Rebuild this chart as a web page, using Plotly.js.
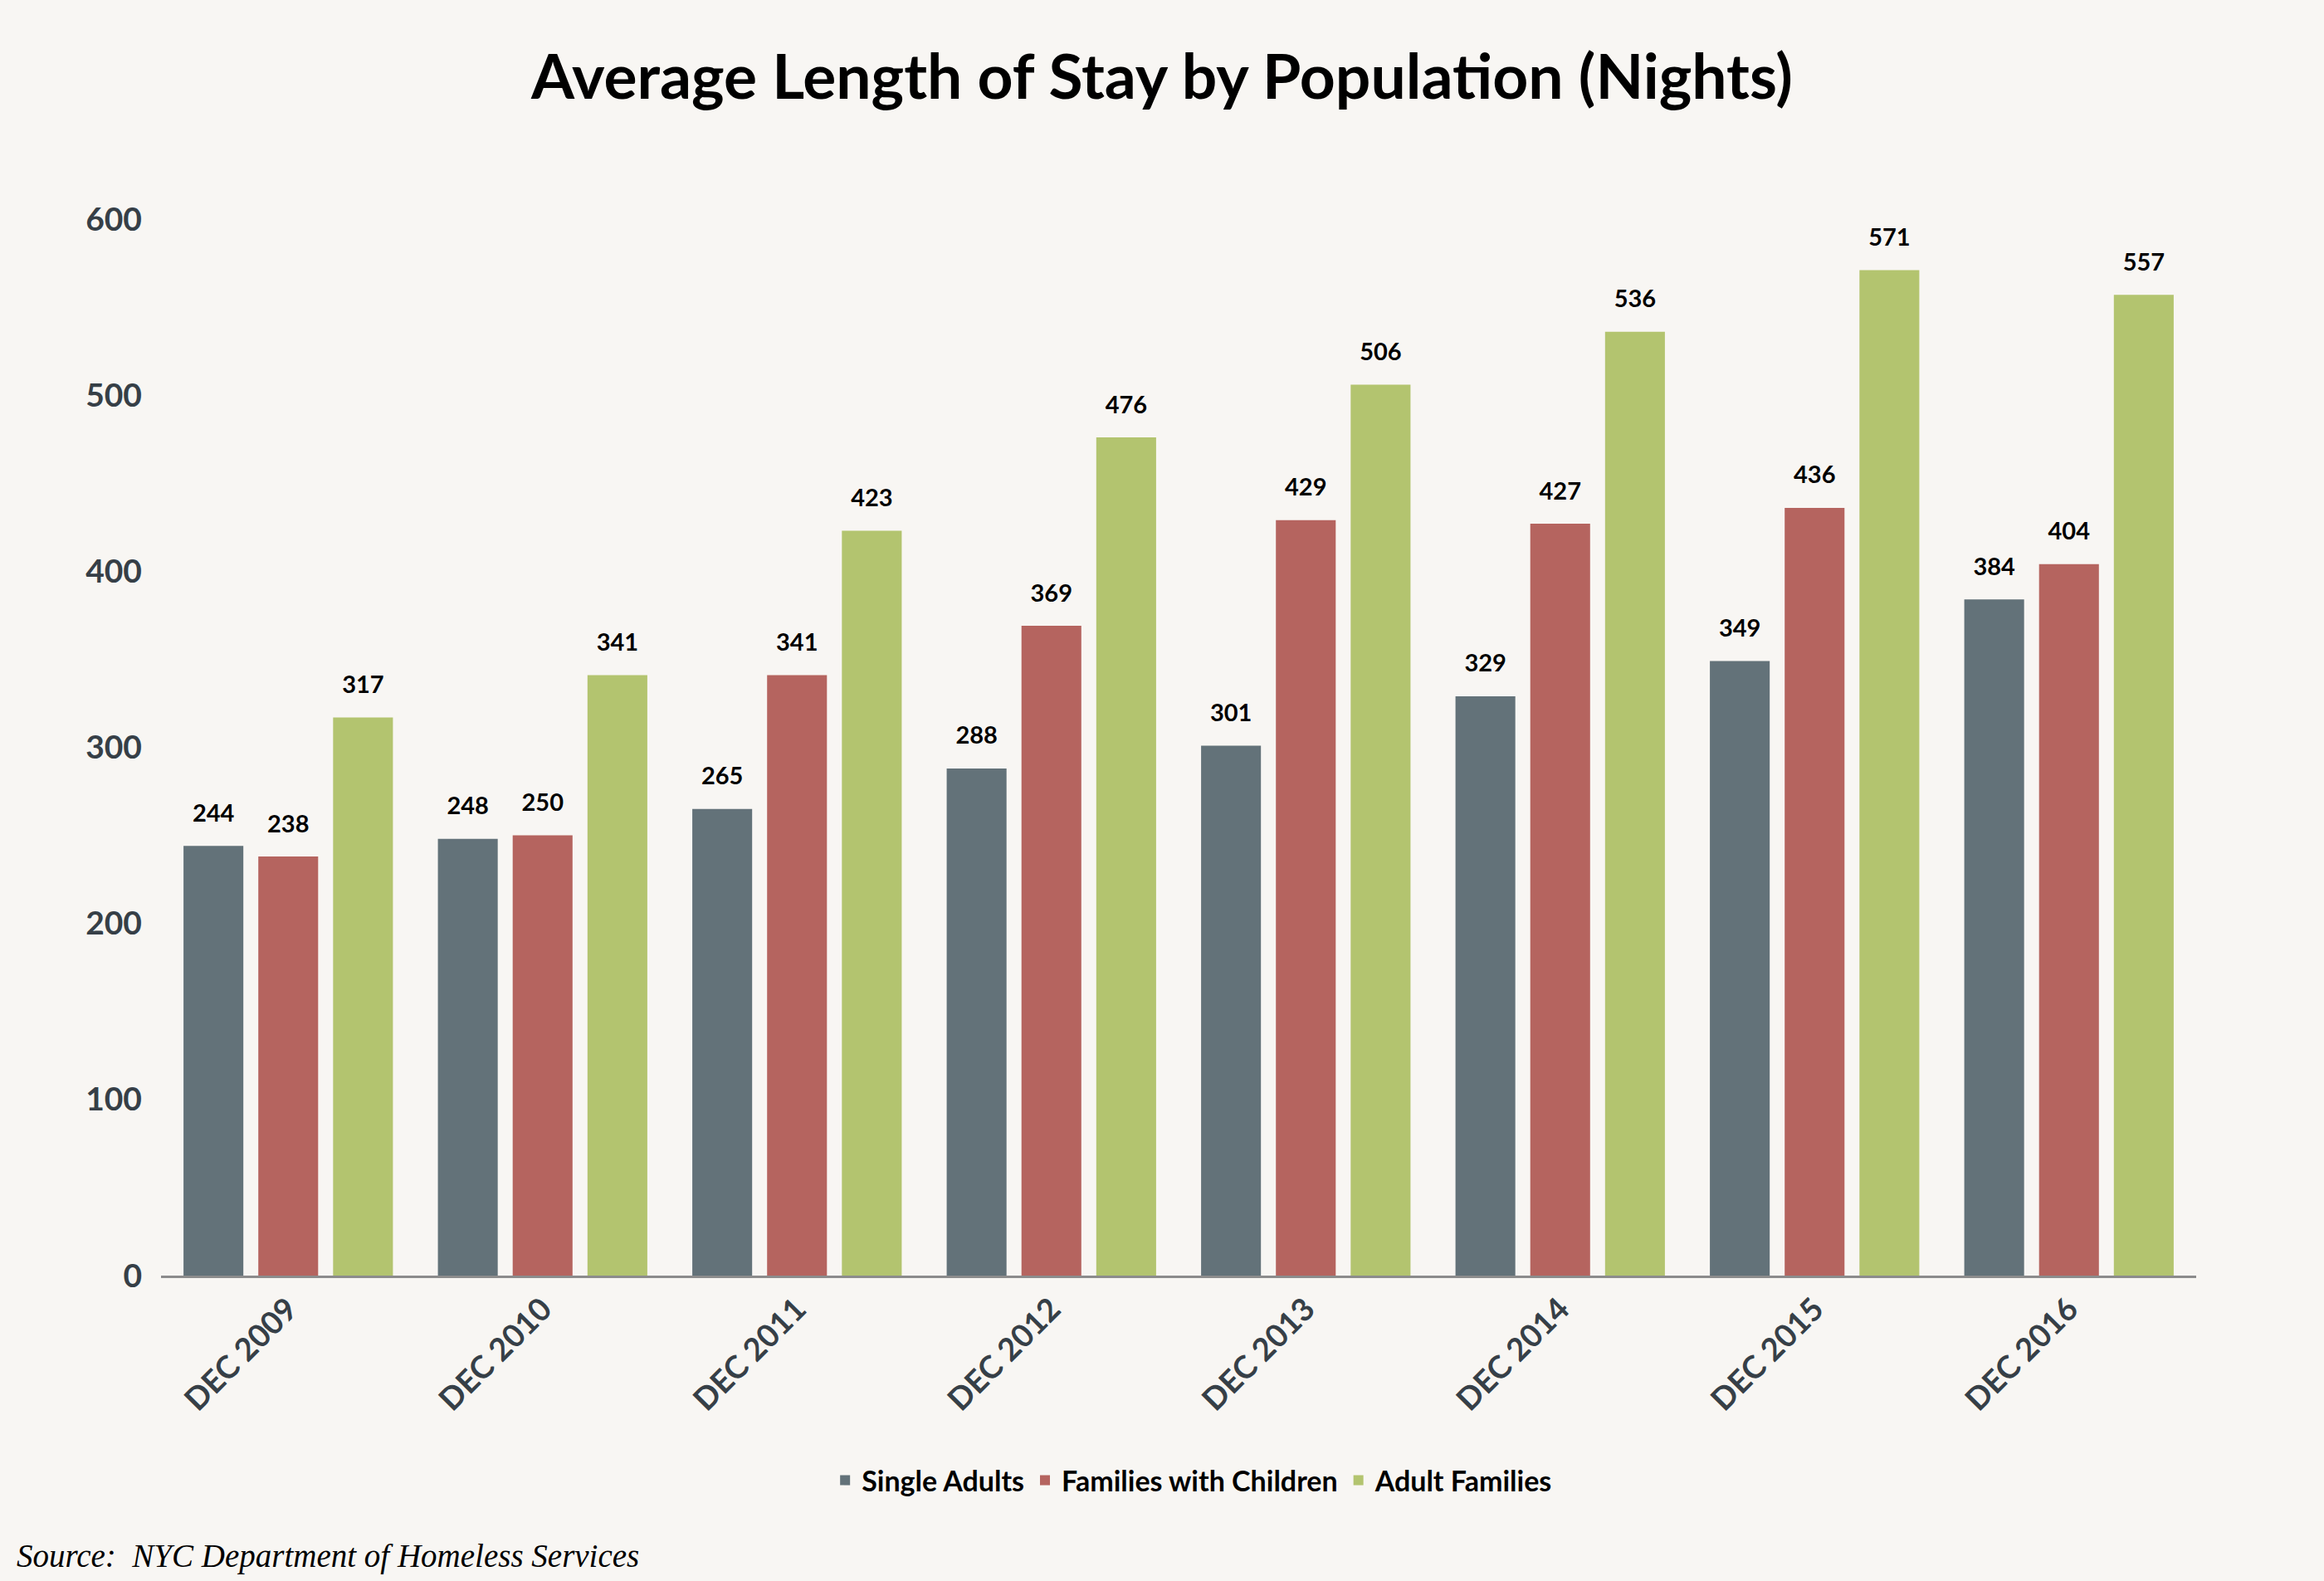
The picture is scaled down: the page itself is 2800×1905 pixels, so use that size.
<!DOCTYPE html>
<html>
<head>
<meta charset="utf-8">
<script src="https://cdn.plot.ly/plotly-3.0.1.min.js"></script>
<style>
html,body{margin:0;padding:0;background:#f8f6f3;}
#chart{width:2800px;height:1905px;}
</style>
</head>
<body>
<div id="chart"></div>
<script>
var categories = ["DEC 2009","DEC 2010","DEC 2011","DEC 2012","DEC 2013","DEC 2014","DEC 2015","DEC 2016"];
var singleAdults = [244,248,265,288,301,329,349,384];
var familiesWithChildren = [238,250,341,369,429,427,436,404];
var adultFamilies = [317,341,423,476,506,536,571,557];
var seriesNames = ["Single Adults","Families with Children","Adult Families"];
var seriesColors = ["#637279","#b5645f","#b3c46f"];
var seriesValues = [singleAdults, familiesWithChildren, adultFamilies];
var yTicks = [0,100,200,300,400,500,600];

var FONT = "Lato, 'Open Sans', sans-serif";
var traces = [];
seriesValues.forEach(function(vals, i){
  traces.push({
    type:"bar", name:seriesNames[i], x:categories, y:vals,
    marker:{color:seriesColors[i]}, hoverinfo:"skip"
  });
});
seriesValues.forEach(function(vals, i){
  traces.push({
    type:"scatter", mode:"markers+text", x:categories, y:vals,
    text:vals.map(String), textposition:"top center",
    textfont:{family:FONT, size:29, color:"#000", weight:700},
    marker:{size:34, opacity:0}, showlegend:false, hoverinfo:"skip", cliponaxis:false
  });
});

var layout = {
  width:2800, height:1905,
  paper_bgcolor:"#f8f6f3", plot_bgcolor:"#f8f6f3",
  margin:{l:194, r:154, t:264, b:368},
  barmode:"group", bargap:0.118, bargroupgap:0.2,
  scattermode:"group", scattergap:0.118,
  title:{text:"Average Length of Stay by Population (Nights)",
         font:{family:FONT, size:75, color:"#000", weight:700},
         x:0.5, xanchor:"center", y:1-93/1905, yref:"container", yanchor:"middle"},
  xaxis:{type:"category", range:[-0.5,7.5], tickangle:-45,
         tickfont:{family:FONT, size:38, color:"#363f47", weight:700},
         showline:true, linecolor:"#8c8c8c", linewidth:3, showgrid:false,
         ticks:"", zeroline:false, fixedrange:true},
  yaxis:{range:[0,600], tickvals:yTicks, ticktext:yTicks.map(String),
         tickfont:{family:FONT, size:39, color:"#363f47", weight:700},
         showgrid:false, showline:false, zeroline:false, ticks:"",
         ticklabelstandoff:22, fixedrange:true},
  legend:{orientation:"h", x:0.507, xanchor:"center", y:-0.194, yanchor:"middle",
          font:{family:FONT, size:34, color:"#000", weight:700},
          bgcolor:"rgba(0,0,0,0)", itemwidth:30},
  showlegend:true,
  annotations:[{text:"<i>Source:  NYC Department of Homeless Services</i>",
    xref:"paper", yref:"paper", x:-194/2452, xanchor:"left", xshift:18,
    y:-(1875-1537)/1273, yanchor:"middle", showarrow:false,
    font:{family:"'Liberation Serif', serif", size:39, color:"#000"}}]
};
Plotly.newPlot("chart", traces, layout, {displayModeBar:false, staticPlot:true});
</script>
</body>
</html>
